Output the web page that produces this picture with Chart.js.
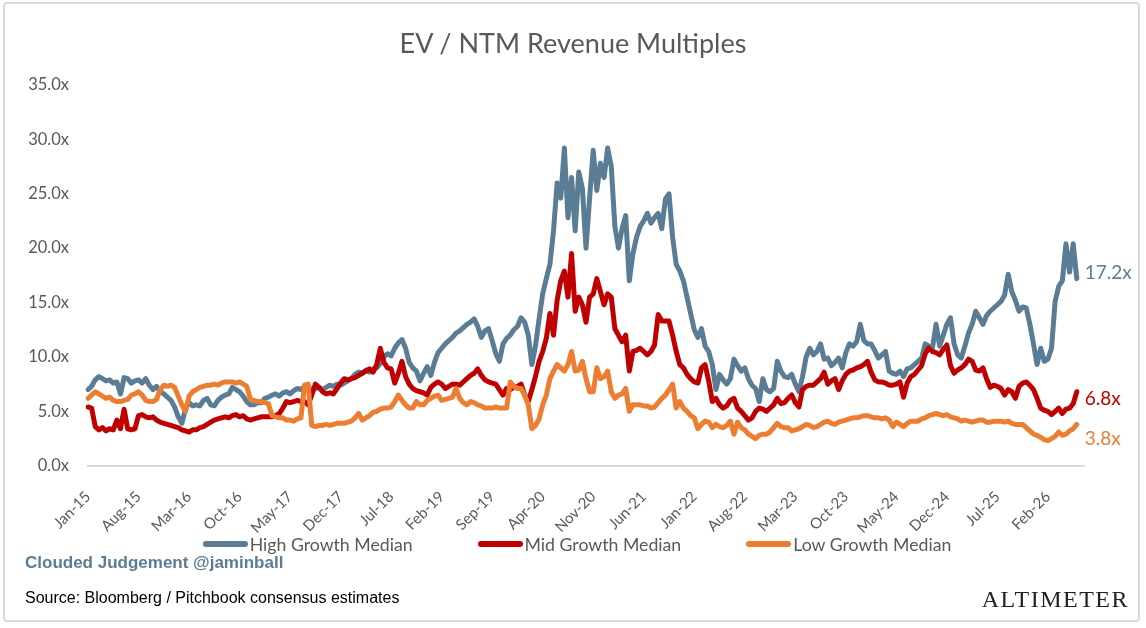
<!DOCTYPE html>
<html>
<head>
<meta charset="utf-8">
<script src="https://cdn.jsdelivr.net/npm/chart.js@4.4.1/dist/chart.umd.min.js"></script>
<style>
html,body{margin:0;padding:0;background:#fff;}
#wrap{position:relative;width:1146px;height:628px;overflow:hidden;background:#fff;}
#c{position:absolute;left:0;top:0;}
.frame{position:absolute;left:3px;top:2px;width:1137px;height:620px;border:2px solid #d9d9d9;border-radius:4px;box-sizing:border-box;pointer-events:none;}
.note{position:absolute;white-space:nowrap;}
#title{position:absolute;left:0;width:1146px;top:27px;text-align:center;font:27px Lato,sans-serif;color:#595959;line-height:32px;}
#cj{left:25px;top:553px;font:bold 17px "Liberation Sans",Arial,sans-serif;color:#5b7c95;}
#src{left:25px;top:589px;font:16px "Liberation Sans",Arial,sans-serif;color:#000;}
#alt{right:17px;top:586px;font:24px "Liberation Serif","DejaVu Serif",serif;letter-spacing:1.5px;color:#222;}
#legend{position:absolute;left:4px;width:1146px;top:532px;height:24px;display:flex;justify-content:center;align-items:center;gap:65px;font:17.7px Lato,sans-serif;color:#595959;}
#legend .item{display:flex;align-items:center;white-space:nowrap;}
#legend .sw{display:inline-block;width:45px;height:6px;border-radius:3px;margin-right:2px;}
</style>
</head>
<body>
<div id="wrap">
<canvas id="c" width="1146" height="628"></canvas>
<div class="frame"></div>
<div id="title">EV / NTM Revenue Multiples</div>
<div id="legend"></div>
<div class="note" id="cj">Clouded Judgement @jaminball</div>
<div class="note" id="src">Source: Bloomberg / Pitchbook consensus estimates</div>
<div class="note" id="alt">ALTIMETER</div>
</div>
<script>
// Tick labels shown on the x axis (every 7 months)
const tickLabels = ['Jan-15','Aug-15','Mar-16','Oct-16','May-17','Dec-17','Jul-18','Feb-19','Sep-19','Apr-20','Nov-20','Jun-21','Jan-22','Aug-22','Mar-23','Oct-23','May-24','Dec-24','Jul-25','Feb-26'];
const seriesNames = ['High Growth Median','Mid Growth Median','Low Growth Median'];

// Semi-monthly readings, starting Jan-15
const highGrowth = [
7.0,7.3,7.9,8.2,8.0,7.8,7.9,7.6,7.7,6.6,
8.1,8.0,7.6,7.8,7.9,7.6,8.0,7.4,7.0,7.3,
6.8,6.6,6.3,6.0,5.4,4.5,3.9,5.2,5.8,5.5,
5.6,5.5,6.0,6.2,5.6,5.5,6.0,6.3,6.5,6.6,
7.2,7.0,6.8,6.4,5.9,5.6,5.6,5.8,5.8,6.2,
6.3,6.5,6.6,6.4,6.7,6.8,6.6,6.9,7.1,7.0,
7.3,7.2,7.0,7.1,7.2,7.0,7.2,7.4,7.3,7.5,
7.4,7.6,7.8,8.0,8.4,8.6,8.5,8.8,8.6,8.9,
9.0,9.4,10.0,10.3,10.1,10.8,11.3,11.6,10.8,9.5,
9.0,8.7,7.8,8.5,9.1,8.3,9.5,10.4,10.8,11.2,
11.5,11.8,12.2,12.4,12.7,13.0,13.2,13.5,12.8,11.8,
12.4,12.6,11.5,10.3,9.6,11.2,11.7,12.0,12.5,12.8,
13.6,13.2,12.0,9.3,11.0,13.5,15.8,17.2,18.5,21.6,
26.0,24.6,29.2,22.8,26.5,21.6,27.0,25.5,20.0,24.6,
29.0,25.3,27.8,26.5,29.2,27.5,22.0,20.0,21.8,23.0,
17.0,19.5,21.0,22.0,22.5,23.2,22.3,22.8,23.2,21.8,
24.5,25.0,21.0,18.5,17.9,17.0,15.5,14.0,12.5,11.8,
12.6,11.0,10.5,9.3,7.0,8.4,7.9,7.5,8.0,9.8,
9.2,8.7,9.0,8.0,7.4,7.1,5.9,8.0,7.0,6.8,
7.1,9.6,8.7,8.2,8.1,8.4,7.5,6.8,8.2,10.0,
10.8,10.2,10.5,11.2,9.8,9.9,9.2,9.5,9.9,9.0,
10.4,11.2,11.0,11.4,13.0,11.5,11.2,11.2,10.6,9.9,
10.2,10.5,8.7,8.5,8.4,8.7,8.2,8.9,9.0,9.3,
9.6,9.9,11.2,11.0,10.8,13.0,11.0,12.0,13.0,13.6,
11.2,10.2,9.9,11.0,12.2,13.0,14.2,13.6,13.0,13.8,
14.2,14.5,14.8,15.1,15.7,17.6,16.0,15.2,14.2,14.6,
14.5,13.0,11.2,9.3,10.8,9.6,9.8,10.8,15.1,16.5,
17.0,20.4,17.8,20.4,17.2];

const midGrowth = [
5.4,5.3,3.6,3.3,3.5,3.2,3.4,3.3,4.2,3.4,
5.2,3.4,3.3,3.4,4.6,4.7,4.5,4.4,4.5,4.2,
4.0,3.9,3.8,3.7,3.6,3.5,3.3,3.2,3.1,3.3,
3.3,3.5,3.6,3.8,4.0,4.2,4.3,4.4,4.5,4.4,
4.6,4.7,4.5,4.6,4.3,4.2,4.3,4.4,4.5,4.5,
4.5,4.5,4.6,4.8,5.3,5.9,5.8,5.9,6.0,5.9,
5.9,5.6,6.5,7.5,7.2,6.8,6.6,6.7,6.6,7.1,
7.6,8.0,7.9,8.0,8.1,8.3,8.5,8.7,8.9,8.6,
9.3,10.8,9.5,9.0,8.9,7.6,8.5,9.6,8.2,7.5,
7.1,6.9,6.8,6.7,6.5,7.2,7.5,7.7,7.5,7.1,
7.3,7.5,7.5,7.4,7.7,8.0,8.3,8.5,8.9,8.3,
7.9,7.7,7.6,7.5,7.0,6.5,7.1,7.0,7.2,7.3,
7.5,6.5,5.9,7.0,8.2,9.6,10.5,11.7,14.0,12.0,
15.2,17.0,17.9,15.5,19.5,14.2,15.5,14.8,13.2,15.5,
15.8,17.2,16.0,14.8,15.8,15.5,12.6,12.0,11.4,12.0,
8.7,10.5,10.6,10.8,10.5,10.2,10.5,11.1,13.9,13.3,
13.3,13.3,12.0,10.5,9.3,9.0,8.4,8.0,7.7,7.6,
9.0,9.3,7.8,5.9,6.2,5.6,5.3,5.5,6.0,6.2,
5.3,5.0,4.6,4.2,4.4,5.0,5.3,5.2,5.0,5.3,
5.6,6.2,5.7,5.8,6.2,6.5,5.8,5.4,7.0,7.3,
7.4,7.4,7.7,8.0,8.6,7.5,7.8,8.0,7.0,7.8,
8.4,8.7,8.8,9.0,9.1,9.3,9.6,8.6,7.9,7.7,
7.7,7.6,7.4,7.4,7.5,7.7,6.3,7.6,8.2,8.4,
8.8,9.2,10.3,10.8,10.5,10.4,10.2,10.7,11.1,9.2,
8.5,8.8,9.0,9.3,9.8,9.6,8.8,8.7,9.0,8.0,
7.2,7.4,7.3,7.1,6.5,7.0,6.8,6.2,7.3,7.6,
7.7,7.4,7.0,6.2,5.3,5.1,5.0,4.7,5.0,5.3,
4.8,5.2,5.3,5.7,6.8];

const lowGrowth = [
6.2,6.5,6.8,6.6,6.4,6.2,6.3,6.0,5.9,5.9,
6.0,6.1,6.5,6.6,6.8,6.5,6.0,5.9,5.9,6.1,
7.0,7.4,7.3,7.4,7.2,6.4,5.6,5.0,6.4,6.8,
7.0,7.2,7.3,7.4,7.4,7.5,7.4,7.6,7.7,7.7,
7.7,7.6,7.7,7.5,7.3,6.1,6.0,5.9,5.9,5.8,
5.7,4.6,4.5,4.4,4.4,4.2,4.2,4.1,4.3,4.4,
7.4,7.5,3.7,3.6,3.7,3.7,3.8,3.7,3.8,3.9,
3.9,3.9,4.0,4.1,4.4,4.8,4.2,4.4,4.6,4.9,
5.0,5.2,5.3,5.3,5.4,5.9,6.5,6.0,5.6,5.3,
5.3,5.9,5.6,5.6,6.0,6.2,6.4,6.5,6.0,6.1,
6.2,6.3,7.1,6.2,5.8,5.6,5.9,5.8,5.6,5.5,
5.3,5.3,5.3,5.4,5.3,5.3,5.3,7.7,7.3,7.1,
7.1,6.5,5.6,3.4,3.7,4.3,5.6,6.5,8.0,8.7,
9.3,9.0,8.7,9.3,10.5,8.7,8.8,9.6,8.0,6.8,
6.8,9.0,8.0,8.2,8.7,6.8,6.2,6.5,6.6,7.1,
5.0,5.6,5.6,5.6,5.5,5.5,5.3,5.4,5.8,6.2,
6.5,7.0,7.5,5.3,5.9,5.3,5.0,4.6,4.4,3.4,
3.8,4.1,4.0,3.5,3.8,3.6,3.5,3.7,4.1,2.9,
4.0,3.5,3.3,2.9,2.7,2.5,2.8,2.9,2.9,3.1,
3.5,3.9,3.6,3.5,3.5,3.2,3.3,3.4,3.6,3.8,
3.7,3.5,3.6,3.8,4.0,4.1,3.9,3.8,4.0,4.1,
4.2,4.3,4.4,4.4,4.5,4.6,4.6,4.5,4.4,4.4,
4.3,4.4,4.2,3.6,4.0,3.8,3.6,3.9,4.1,4.1,
4.1,4.3,4.4,4.6,4.7,4.8,4.7,4.6,4.7,4.5,
4.4,4.3,4.1,4.2,4.1,4.0,4.1,4.2,4.2,4.0,
4.0,4.1,4.1,4.1,4.0,4.1,3.9,3.8,3.8,3.8,
3.5,3.2,2.9,2.8,2.6,2.4,2.3,2.5,2.7,3.1,
2.8,2.9,3.2,3.4,3.8];

// Category labels: two readings per month, from Jan-15 (plus two empty trailing slots)
const monthNames = ['Jan','Feb','Mar','Apr','May','Jun','Jul','Aug','Sep','Oct','Nov','Dec'];
const categories = [];
for (let i = 0; i < highGrowth.length + 2; i++) {
  const m = Math.floor(i / 2);
  const yr = 15 + Math.floor(m / 12);
  categories.push(monthNames[m % 12] + '-' + yr + (i % 2 ? ' (b)' : ''));
}

const colors = ['#5b7c95', '#c00000', '#ed7d31'];
const endLabelDy = [-6, 7, 14];

// HTML legend built from the series names / colours
const legendEl = document.getElementById('legend');
seriesNames.forEach((name, i) => {
  const item = document.createElement('div');
  item.className = 'item';
  const sw = document.createElement('span');
  sw.className = 'sw';
  sw.style.background = colors[i];
  const tx = document.createElement('span');
  tx.textContent = name;
  item.appendChild(sw);
  item.appendChild(tx);
  legendEl.appendChild(item);
});

const endLabels = {
  id: 'endLabels',
  afterDatasetsDraw(chart) {
    const ctx = chart.ctx;
    chart.data.datasets.forEach((ds, di) => {
      const meta = chart.getDatasetMeta(di);
      const last = ds.data.length - 1;
      const pt = meta.data[last];
      if (!pt) return;
      ctx.save();
      ctx.font = '19px Lato';
      ctx.fillStyle = colors[di];
      ctx.textBaseline = 'middle';
      ctx.textAlign = 'left';
      ctx.fillText(ds.data[last].toFixed(1) + 'x', pt.x + 8, pt.y + endLabelDy[di]);
      ctx.restore();
    });
  }
};

const seriesData = [highGrowth, midGrowth, lowGrowth];
new Chart(document.getElementById('c'), {
  type: 'line',
  data: {
    labels: categories,
    datasets: seriesData.map((d, i) => ({
      label: seriesNames[i],
      data: d,
      borderColor: colors[i],
      backgroundColor: colors[i],
      borderWidth: 5,
      borderCapStyle: 'round',
      borderJoinStyle: 'round',
      pointRadius: 0,
      tension: 0,
      fill: false,
      order: 3 - i
    }))
  },
  options: {
    responsive: false,
    animation: false,
    events: [],
    layout: { padding: { left: 22, right: 62, top: 85, bottom: 77 } },
    plugins: {
      title: { display: false },
      legend: { display: false },
      tooltip: { enabled: false }
    },
    scales: {
      x: {
        type: 'category',
        grid: { display: false },
        border: { display: true, color: '#d9d9d9', width: 2 },
        ticks: {
          autoSkip: false,
          maxRotation: 45,
          minRotation: 45,
          color: '#595959',
          font: { family: 'Lato', size: 15 },
          padding: 14,
          callback: (v, i) => (i % 14 === 0 && tickLabels[i / 14]) ? tickLabels[i / 14] : ''
        }
      },
      y: {
        min: 0,
        max: 35,
        grid: { display: false },
        border: { display: false },
        afterFit: (scale) => { scale.width = 66; },
        ticks: {
          stepSize: 5,
          color: '#595959',
          font: { family: 'Lato', size: 16.5 },
          padding: 11,
          callback: v => v.toFixed(1) + 'x'
        }
      }
    }
  },
  plugins: [endLabels]
});
</script>
</body>
</html>
